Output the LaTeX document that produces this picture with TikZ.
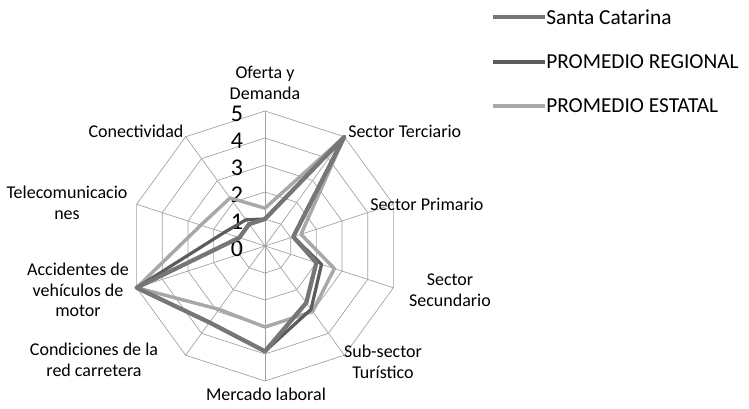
\documentclass[tikz,border=0pt]{standalone}
\usepackage{fontspec}
\setmainfont{Carlito}
\usetikzlibrary{positioning}

\definecolor{santacol}{RGB}{118,118,118}
\definecolor{regcol}{RGB}{92,92,92}
\definecolor{estcol}{RGB}{168,168,168}
\definecolor{gridcol}{RGB}{160,160,160}

\begin{document}
\begin{tikzpicture}[x=0.75pt, y=0.75pt]
	\tikzset{grid/.style={draw=gridcol, line width=0.5pt},
		axislabel/.style={font=\fontsize{13.5}{15.5}\selectfont, align=center, inner sep=0pt},
		levellabel/.style={font=\fontsize{18}{18}\selectfont, inner sep=0pt},
		santa/.style={draw=santacol, line width=3.2pt, line join=round},
		regional/.style={draw=regcol, line width=2.4pt, line join=round},
		estatal/.style={draw=estcol, line width=2.6pt, line join=round},
		legendtext/.style={font=\fontsize{16}{18}\selectfont, inner sep=0pt, anchor=west}}

	\useasboundingbox (0,0) rectangle (749,-409);

	\begin{scope}[shift={(265,-246)}]
		% grid
		\foreach \l in {1,...,5}
			\draw[grid] (90:\l*27) \foreach \k in {1,...,9}{ -- ({90-36*\k}:\l*27)} -- cycle;
		\foreach \k in {0,...,9}
			\draw[grid] (0,0) -- ({90-36*\k}:135);

		% level numbers
		\foreach \l in {0,...,5}
			\node[levellabel] (lv\l) at (-28,27*\l-3) {\l};

		% data
		\foreach \v [count=\k from 0] in {1.4,5,1.4,2.7,3,3,2.9,5,2.5,2.2}
			\coordinate (es\k) at ({90-36*\k}:\v*27);
		\foreach \v [count=\k from 0] in {1,5,1.1,2.2,2.9,3.9,3.5,5,1.6,1.2}
			\coordinate (rg\k) at ({90-36*\k}:\v*27);
		\foreach \v [count=\k from 0] in {1,5,1.1,2,2.6,3.9,3.5,5,1,1}
			\coordinate (sc\k) at ({90-36*\k}:\v*27);

		\draw[estatal] (es0) \foreach \k in {1,...,9}{ -- (es\k)} -- cycle;
		\draw[regional] (rg0) \foreach \k in {1,...,9}{ -- (rg\k)} -- cycle;
		\draw[santa] (sc0) \foreach \k in {1,...,9}{ -- (sc\k)} -- cycle;

		% axis labels
		\node[axislabel] (oferta) at (0,163) {Oferta y\\Demanda};
		\node[axislabel, anchor=west] (terciario) at (83,115) {Sector Terciario};
		\node[axislabel, anchor=west] (primario) at (105,42) {Sector Primario};
		\node[axislabel] (secundario) at (185,-44) {Sector\\Secundario};
		\node[axislabel] (turistico) at (118,-116) {Sub-sector\\Turístico};
		\node[axislabel] (mercado) at (1,-148) {Mercado laboral};
		\node[axislabel] (condiciones) at (-171,-114) {Condiciones de la\\red carretera};
		\node[axislabel] (accidentes) at (-187,-44) {Accidentes de\\vehículos de\\motor};
		\node[axislabel] (telecom) at (-198,43) {Telecomunicacio\\nes};
		\node[axislabel] (conectividad) at (-129,115) {Conectividad};
	\end{scope}

	% legend
	\node[legendtext] (lgsanta) at (546,-17) {Santa Catarina};
	\node[legendtext] (lgreg) at (546,-62) {PROMEDIO REGIONAL};
	\node[legendtext] (lgest) at (546,-106) {PROMEDIO ESTATAL};
	\coordinate (lsS) at (493,-17);
	\coordinate (lsR) at (493,-62);
	\coordinate (lsE) at (493,-106);
	\draw[santa] (lsS) -- ([xshift=-1]lgsanta.west);
	\draw[regional] (lsR) -- ([xshift=-1]lgreg.west);
	\draw[estatal] (lsE) -- ([xshift=-1]lgest.west);
\end{tikzpicture}
\end{document}
